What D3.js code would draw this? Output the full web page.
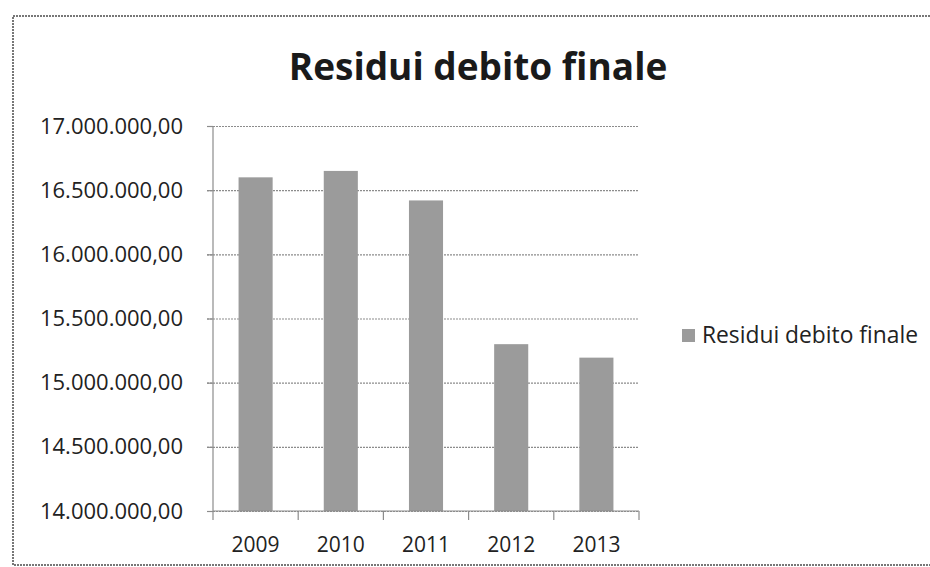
<!DOCTYPE html>
<html>
<head>
    <title>Residui debito finale</title>
    <script src="https://d3js.org/d3.v7.min.js"></script>
    <style>
        body { margin: 0; background: #fff; }
        text { font-family: "Open Sans", sans-serif; fill: #222; }
        .grid line { stroke: #8c8c8c; stroke-width: 1.2; stroke-dasharray: 2,1; }
        .axis path, .axis line { stroke: #8c8c8c; stroke-width: 1.2; }
    </style>
</head>
<body>
<div id="chart-container"></div>
<script>
    const years = ['2009', '2010', '2011', '2012', '2013'];
    const residui = [16600000, 16650000, 16420000, 15300000, 15195000];
    const yTicks = [14000000, 14500000, 15000000, 15500000, 16000000, 16500000, 17000000];
    const seriesName = 'Residui debito finale';
    const chartTitle = 'Residui debito finale';

    const width = 930;
    const height = 567;
    const margin = { top: 126, left: 213, right: 291, bottom: 56 };
    const chartWidth = width - margin.left - margin.right;
    const chartHeight = height - margin.top - margin.bottom;

    const fmt = v => d3.format(',.2f')(v).replace(/,/g, '#').replace('.', ',').replace(/#/g, '.');

    const svg = d3.select('#chart-container')
        .append('svg')
        .attr('width', width)
        .attr('height', height);

    // frame of the scanned chart
    svg.append('path')
        .attr('d', `M${width},16 H13 V565 H${width}`)
        .attr('fill', 'none')
        .attr('stroke', '#777')
        .attr('stroke-width', 2)
        .attr('stroke-dasharray', '2,1');

    svg.append('text')
        .attr('x', 478)
        .attr('y', 80)
        .attr('text-anchor', 'middle')
        .style('font-size', '37px')
        .style('font-weight', 'bold')
        .style('fill', '#1a1a1a')
        .text(chartTitle);

    const chart = svg.append('g')
        .attr('transform', `translate(${margin.left},${margin.top})`);

    const xScale = d3.scaleBand()
        .domain(years)
        .range([0, chartWidth])
        .paddingInner(0.6)
        .paddingOuter(0.3);

    const xBand = d3.scaleBand()
        .domain(years)
        .range([0, chartWidth]);

    const yScale = d3.scaleLinear()
        .domain([d3.min(yTicks), d3.max(yTicks)])
        .range([chartHeight, 0]);

    chart.append('g')
        .attr('class', 'grid')
        .call(d3.axisLeft(yScale)
            .tickValues(yTicks)
            .tickSize(-chartWidth)
            .tickFormat(''))
        .call(g => g.select('.domain').remove())
        .selectAll('line')
        .attr('x1', -6);

    chart.selectAll('.bar')
        .data(residui)
        .enter()
        .append('rect')
        .attr('class', 'bar')
        .attr('x', (d, i) => xScale(years[i]))
        .attr('y', d => yScale(d))
        .attr('width', xScale.bandwidth())
        .attr('height', d => chartHeight - yScale(d))
        .attr('fill', '#9b9b9b');

    // y axis
    const yAxis = chart.append('g')
        .attr('class', 'axis')
        .call(d3.axisLeft(yScale)
            .tickValues(yTicks)
            .tickSize(6)
            .tickPadding(24)
            .tickFormat(fmt));
    yAxis.select('.domain').attr('d', `M0,0V${chartHeight}`);
    yAxis.selectAll('text').style('font-size', '22px').attr('fill', '#222');

    // x axis with ticks between categories
    const xAxis = chart.append('g')
        .attr('class', 'axis')
        .attr('transform', `translate(0,${chartHeight})`);
    xAxis.append('line')
        .attr('x1', 0).attr('x2', chartWidth);
    xAxis.selectAll('.tick-mark')
        .data(years.map(y => xBand(y)).concat([xBand.range()[1]]))
        .enter()
        .append('line')
        .attr('x1', d => d).attr('x2', d => d)
        .attr('y1', 0).attr('y2', 9);
    xAxis.selectAll('.year')
        .data(years)
        .enter()
        .append('text')
        .attr('x', d => xBand(d) + xBand.bandwidth() / 2)
        .attr('y', 41)
        .attr('text-anchor', 'middle')
        .style('font-size', '21px')
        .text(d => d);

    // legend
    const legend = svg.append('g').attr('transform', 'translate(682,329)');
    legend.append('rect')
        .attr('width', 13).attr('height', 13)
        .attr('fill', '#9b9b9b');
    legend.append('text')
        .attr('x', 20).attr('y', 14)
        .style('font-size', '22.8px')
        .text(seriesName);
</script>
</body>
</html>
